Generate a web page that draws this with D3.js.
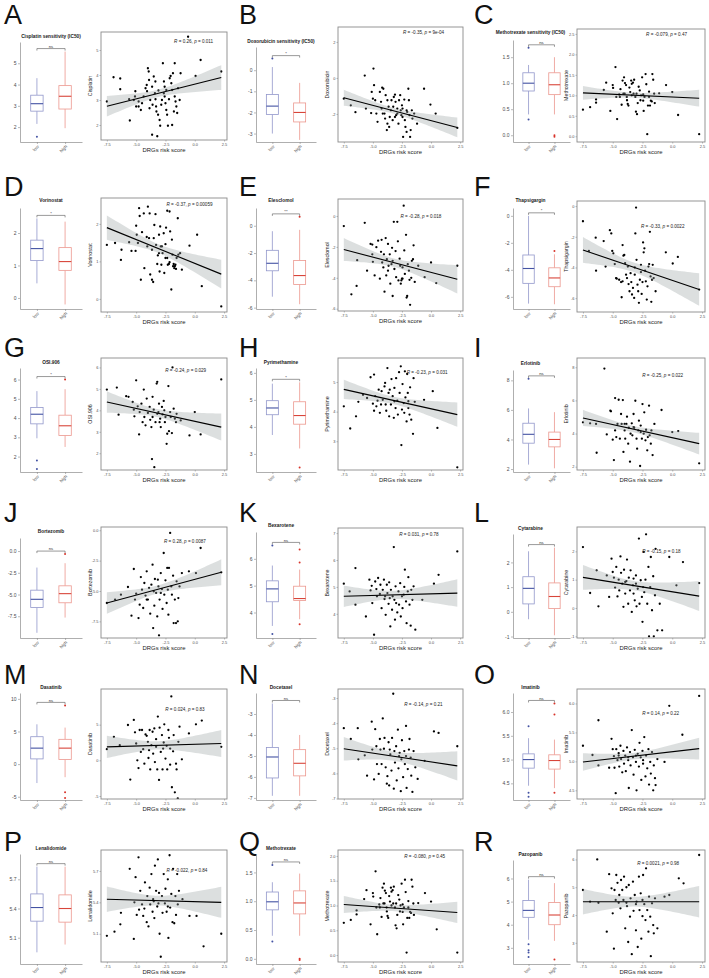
<!DOCTYPE html>
<html>
<head>
<meta charset="utf-8">
<script src="https://cdn.jsdelivr.net/npm/d3@7"></script>
<style>
  body { margin: 0; background: #fff; }
  svg text { font-family: "Liberation Sans", Arial, Helvetica, sans-serif; }
</style>
</head>
<body>
<svg id="fig" width="709" height="978"></svg>
<script>
// ---- data ----
const panelLetters = ["A","B","C","D","E","F","G","H","I","J","K","L","M","N","O","P","Q","R"];
const drugNames = ["Cisplatin","Doxorubicin","Methotrexate","Vorinostat","Elesclomol","Thapsigargin","OSI.906","Pyrimethamine","Erlotinib",
  "Bortezomib","Bexarotene","Cytarabine","Dasatinib","Docetaxel","Imatinib","Lenalidomide","Methotrexate","Pazopanib"];
const boxTitles = ["Cisplatin sensitivity (IC50)","Doxorubicin sensitivity (IC50)","Methotrexate sensitivity (IC50)","Vorinostat","Elesclomol","Thapsigargin",
  "OSI.906","Pyrimethamine","Erlotinib","Bortezomib","Bexarotene","Cytarabine","Dasatinib","Docetaxel","Imatinib","Lenalidomide","Methotrexate","Pazopanib"];
const groups = ["low", "high"];
const sigLabels = ["ns","*","ns","*","**","*","*","*","ns","ns","ns","ns","ns","ns","ns","ns","ns","ns"];

// [lower whisker, q1, median, q3, upper whisker]
const lowStats = [
  [2.15,2.75,3.1,3.5,4.3],[-3.0,-2.1,-1.7,-1.15,0.15],[0.4,0.85,1.0,1.2,1.35],
  [0.45,1.15,1.52,1.78,2.45],[-5.2,-3.3,-2.75,-1.8,-0.4],[-6.5,-5.0,-3.9,-2.9,0.0],
  [2.95,3.7,4.2,4.55,5.4],[3.7,4.45,4.7,4.97,5.6],[2.3,3.75,4.35,5.1,6.1],
  [-9.4,-6.5,-5.55,-4.5,-1.9],[3.5,4.4,4.88,5.18,5.75],[-0.3,0.32,0.95,1.42,2.45],
  [-2.9,0.8,2.45,4.2,6.1],[-6.9,-6.05,-5.05,-4.6,-2.5],[4.45,4.82,5.0,5.12,5.45],
  [4.95,5.27,5.41,5.55,5.83],[0.4,0.85,0.99,1.16,1.33],[3.35,4.32,4.62,5.05,5.95]];
const highStats = [
  [1.95,2.85,3.45,3.95,5.55],[-3.3,-2.45,-2.0,-1.55,-0.6],[0.4,0.78,0.97,1.2,1.5],
  [-0.2,0.85,1.12,1.55,2.35],[-5.75,-4.3,-3.65,-2.55,-0.3],[-6.55,-5.25,-4.6,-3.85,-2.85],
  [2.5,3.1,3.6,4.15,5.5],[3.2,4.1,4.42,4.93,5.65],[2.05,3.5,4.0,4.5,5.85],
  [-7.65,-5.95,-4.9,-4.0,-1.4],[3.75,4.45,4.52,4.98,5.6],[-0.95,0.13,0.62,1.17,2.6],
  [-2.0,0.7,2.45,3.8,5.6],[-6.9,-5.95,-5.35,-4.7,-4.0],[4.4,4.8,4.98,5.1,5.42],
  [5.03,5.26,5.4,5.54,5.83],[0.4,0.78,0.97,1.18,1.48],[3.3,4.0,4.42,4.96,5.8]];
const lowOutliers = [[1.55],[0.55],[1.68,0.3],[],[],[],[1.8,1.35],[],[8.1],[],[6.5,3.2],[],[],[],[5.7,4.3,4.22],[],[1.63,0.3],[3.15,2.9,2.8,2.6]];
const highOutliers = [[],[],[0.0,-0.03],[],[0.65],[-2.6],[6.0],[2.5],[],[-0.35],[6.35,5.86,3.56],[],[9.0,-4.3,-5.2],[],[6.18,5.95,4.3],[],[0.0,-0.02],[2.5]];
const boxDomains = [[1.3,6.0],[-3.4,1.1],[-0.13,1.83],[-0.34,2.77],[-6.1,1.3],[-6.9,0.58],[1.2,6.6],[2.33,6.18],[1.8,8.7],
  [-10,1.5],[3.05,7.0],[-1.06,3.15],[-5.5,10.9],[-7.1,-2.0],[4.15,6.4],[4.83,5.96],[-0.09,1.82],[2.3,6.8]];
const boxTicks = [[2,3,4,5],[-3,-2,-1,0],[0,0.5,1,1.5],[0,1,2],[-6,-4,-2,0],[-6,-4,-2,0],[2,3,4,5,6],[3,4,5,6],[2,4,6,8],
  [-7.5,-5,-2.5,0],[4,5,6],[-1,0,1,2],[-5,0,5,10],[-7,-6,-5,-4,-3],[4.5,5,5.5,6],[5.1,5.4,5.7],[0,0.5,1,1.5],[3,4,5,6]];
const boxTickDecimals = [0,0,1,0,0,0,0,0,0,1,0,0,0,0,1,1,1,0];

const riskDomain = [-8.0, 2.75];
const riskTicks = [-7.5, -5.0, -2.5, 0.0, 2.5];
const scatterDomains = [[1.4,5.72],[-3.56,2.83],[-0.14,2.62],[-0.35,2.69],[-6.15,1.1],[-6.9,0.33],[1.22,6.44],[2.03,5.81],[1.8,8.56],
  [-8.87,0.27],[3.1,7.19],[-1.06,2.86],[-5.42,10.0],[-7.02,-2.64],[4.35,6.25],[4.83,5.9],[-0.14,2.12],[2.31,6.34]];
const scatterTicks = [[2,3,4,5],[-2,0,2],[0,0.5,1,1.5,2,2.5],[0,1,2],[-6,-4,-2,0],[-6,-4,-2,0],[2,3,4,5,6],[3,4,5],[2,4,6,8],
  [-7.5,-5,-2.5,0],[4,5,6,7],[-1,0,1,2],[-5,0,5],[-7,-6,-5,-4,-3],[4.5,5,5.5,6],[5.1,5.4,5.7],[0,0.5,1,1.5,2],[3,4,5,6]];
const scatterTickDecimals = [0,0,1,0,0,0,0,0,0,1,0,0,0,0,1,1,1,0];
const rValues = ["0.26","-0.35","-0.079","-0.37","-0.28","-0.33","-0.24","-0.23","-0.25","0.28","0.031","-0.15","0.024","-0.14","0.14","-0.022","-0.080","0.0021"];
const pValues = ["0.011","9e-04","0.47","0.00059","0.018","0.0022","0.029","0.031","0.022","0.0087","0.78","0.18","0.83","0.21","0.22","0.84","0.45","0.98"];
// fitted line value at the leftmost and rightmost risk score
const fitEnds = [[2.75,3.9],[-1.1,-2.75],[1.06,0.93],[1.9,0.66],[-2.17,-4.1],[-2.86,-5.44],[4.39,3.22],[4.75,3.9],[4.94,3.39],
  [-5.99,-3.46],[4.65,4.77],[1.08,0.42],[1.89,2.36],[-5.02,-5.7],[4.99,5.22],[5.43,5.4],[1.02,0.86],[4.48,4.48]];
// half width of the confidence band at the leftmost and rightmost risk score
const bandHalf = [[0.43,0.47],[0.48,0.5],[0.17,0.2],[0.32,0.39],[0.75,0.9],[0.83,1.07],[0.52,0.6],[0.36,0.37],[0.38,0.8],
  [0.92,1.03],[0.38,0.53],[0.44,0.52],[1.58,1.87],[0.46,0.59],[0.15,0.19],[0.12,0.15],[0.16,0.23],[0.48,0.54]];

// [DRGs risk score, drug value]
const scatterA = [[-7.5,2.94],[-6.93,3.91],[-6.36,3.86],[-6.36,3.43],[-5.54,2.18],[-5.07,3.35],[-5.1,3.14],[-5.2,3.0],[-5.6,3.03],[-4.79,2.74],[-4.6,2.6],[-4.2,3.47],[-4.1,3.6],[-4.0,4.27],[-3.93,4.14],[-3.8,3.0],[-3.64,3.53],[-3.5,3.94],[-3.36,3.74],[-3.4,3.27],[-3.35,3.03],[-3.3,2.74],[-3.27,2.54],[-3.13,2.41],[-3.0,2.2],[-2.95,1.97],[-3.64,1.61],[-3.2,1.55],[-2.72,4.47],[-2.63,3.74],[-2.57,3.53],[-2.57,3.14],[-2.5,2.87],[-2.43,2.6],[-2.36,2.41],[-2.29,1.97],[-2.14,3.87],[-2.06,3.96],[-2.0,3.67],[-1.93,3.4],[-1.93,2.0],[-1.86,4.07],[-1.71,4.47],[-1.71,3.14],[-1.64,2.94],[-1.57,2.74],[-1.5,2.48],[-1.29,3.0],[-1.21,4.07],[-0.57,5.53],[0.07,3.96],[0.5,4.6],[2.26,4.14],[-4.79,2.94],[-4.5,2.87],[-4.36,3.14],[-3.86,2.67],[-3.6,2.81],[-2.86,2.81],[-2.8,3.0],[-2.64,3.27],[-2.2,3.03],[-1.43,3.47],[-3.1,3.38],[-4.07,3.35],[-5.0,2.74],[-3.9,3.8],[-2.43,3.4],[-1.78,2.54]];
const scatterB = [[-7.5,-1.15],[-6.9,-1.52],[-6.5,-1.9],[-5.7,0.13],[-5.6,-1.7],[-5.15,-1.95],[-5.1,-0.78],[-5.0,-1.15],[-4.95,0.52],[-4.9,-0.4],[-4.8,-1.24],[-4.7,-1.98],[-4.6,-2.44],[-4.4,-0.78],[-4.3,-1.33],[-4.25,-1.7],[-4.2,-0.54],[-4.1,-0.6],[-4.0,-1.98],[-3.95,-2.26],[-3.9,-0.96],[-3.8,-2.9],[-3.75,-2.54],[-3.6,-2.72],[-3.55,-2.17],[-3.45,-1.8],[-3.4,-1.24],[-3.3,-2.35],[-3.2,-1.06],[-3.1,-0.93],[-3.05,-1.33],[-3.0,-2.07],[-2.9,-1.7],[-2.8,-2.54],[-2.75,-1.24],[-2.65,-0.96],[-2.6,-1.8],[-2.55,-2.07],[-2.45,-1.7],[-2.4,-3.28],[-2.3,-1.2],[-2.25,-2.35],[-2.2,-2.72],[-2.1,-3.0],[-2.05,-1.89],[-1.95,-0.6],[-1.9,-1.24],[-1.85,-2.07],[-1.8,-3.28],[-1.75,-2.9],[-1.65,-1.8],[-1.6,-2.26],[-1.45,-1.98],[-1.2,-2.54],[-0.6,-0.6],[-0.05,-1.48],[0.4,-1.98],[2.26,-2.78],[-4.15,-1.98],[-3.65,-1.6],[-3.25,-1.6],[-2.9,-1.98],[-2.45,-2.17],[-2.1,-1.8],[-2.5,-1.52],[-3.1,-2.17],[-3.75,-1.24]];
const scatterC = [[-7.5,0.65],[-6.9,0.71],[-6.4,0.82],[-6.4,0.9],[-5.75,1.13],[-5.55,1.31],[-5.2,0.62],[-5.0,1.25],[-4.97,1.18],[-4.77,1.69],[-4.7,0.96],[-4.63,0.42],[-4.45,1.02],[-4.35,1.15],[-4.25,0.77],[-4.17,1.36],[-4.1,1.04],[-4.05,1.44],[-3.97,1.3],[-3.88,1.25],[-3.82,0.96],[-3.74,0.79],[-3.68,0.75],[-3.6,1.19],[-3.53,1.08],[-3.45,1.36],[-3.4,1.28],[-3.3,1.31],[-3.25,1.04],[-3.2,1.38],[-3.1,0.96],[-3.05,0.6],[-2.96,0.54],[-2.9,0.81],[-2.82,1.21],[-2.73,1.12],[-2.67,0.88],[-2.62,1.0],[-2.53,1.44],[-2.44,0.87],[-2.4,0.62],[-2.33,0.96],[-2.24,1.52],[-2.18,1.27],[-2.1,0.05],[-2.04,0.75],[-1.95,1.09],[-1.87,0.75],[-1.8,0.87],[-1.72,0.85],[-1.67,1.52],[-1.6,1.38],[-1.52,1.04],[-1.47,0.81],[-1.1,1.05],[-0.52,1.25],[0.0,1.08],[0.49,0.52],[2.26,0.05],[-4.4,0.96],[-4.0,1.04],[-3.4,1.0],[-3.0,1.04],[-2.44,1.02],[-1.95,0.96],[-3.8,0.88]];
const scatterD = [[-7.5,1.44],[-6.8,1.49],[-6.3,1.04],[-6.25,1.31],[-5.6,1.51],[-5.4,1.28],[-5.05,1.28],[-5.0,1.95],[-4.95,1.71],[-4.85,1.49],[-4.75,2.42],[-4.7,2.21],[-4.6,0.51],[-4.5,1.78],[-4.35,2.28],[-4.3,0.82],[-4.1,1.65],[-4.05,1.4],[-4.0,2.46],[-3.9,1.62],[-3.85,2.28],[-3.8,0.65],[-3.65,0.51],[-3.55,0.45],[-3.5,1.62],[-3.45,1.97],[-3.35,2.26],[-3.3,1.44],[-3.2,0.93],[-3.15,1.16],[-3.05,1.71],[-3.0,0.73],[-2.95,1.93],[-2.85,0.91],[-2.8,1.4],[-2.75,1.22],[-2.65,1.75],[-2.6,0.69],[-2.5,1.46],[-2.45,1.9],[-2.35,2.35],[-2.3,0.91],[-2.2,0.93],[-2.15,2.33],[-2.1,1.8],[-2.0,0.25],[-1.95,1.58],[-1.9,1.18],[-1.85,0.87],[-1.8,0.93],[-1.75,0.82],[-1.7,0.87],[-1.65,0.91],[-1.6,0.8],[-1.55,1.09],[-1.45,2.15],[-1.4,1.18],[-1.25,1.22],[-1.1,0.78],[-0.45,1.42],[0.2,1.71],[0.6,0.34],[2.26,-0.2],[-2.35,1.09],[-3.05,1.22],[-3.65,1.31],[-2.9,1.4],[-2.15,0.98],[-2.5,1.09]];
const scatterE = [[-7.5,-0.65],[-6.85,-5.07],[-6.4,-4.53],[-5.7,-0.44],[-6.35,-2.86],[-5.5,-3.54],[-5.2,-1.81],[-5.05,-1.85],[-5.05,-2.48],[-5.0,-2.97],[-4.85,-3.85],[-4.7,-2.02],[-4.55,-1.6],[-4.4,-4.06],[-4.3,-2.32],[-4.25,-1.54],[-4.2,-3.01],[-4.1,-3.33],[-4.05,-2.48],[-4.0,-4.9],[-3.9,-1.43],[-3.85,-3.85],[-3.8,-2.8],[-3.7,-1.81],[-3.65,-3.22],[-3.55,-2.48],[-3.5,-4.38],[-3.4,-3.12],[-3.35,-2.06],[-3.3,-5.18],[-3.2,-0.38],[-3.15,-3.43],[-3.05,-2.27],[-3.0,-3.96],[-2.9,-0.38],[-2.85,-1.64],[-2.8,-4.17],[-2.7,-2.76],[-2.65,-3.22],[-2.6,-4.38],[-2.55,-4.17],[-2.5,-4.06],[-2.45,-4.06],[-2.35,0.67],[-2.3,-2.23],[-2.25,-3.75],[-2.15,-1.22],[-2.1,-5.28],[-2.05,-5.18],[-2.0,-3.12],[-1.9,-3.54],[-1.85,-4.13],[-1.8,-5.75],[-1.7,-4.0],[-1.65,-2.9],[-1.55,-2.8],[-1.5,-1.9],[-1.4,-4.27],[-1.1,-3.22],[-0.55,-3.96],[0.0,-3.01],[0.45,-4.34],[2.26,-3.22],[-3.3,-2.9],[-2.45,-3.33],[-3.7,-3.54]];
const scatterF = [[-7.5,-0.99],[-6.43,-2.06],[-6.4,-4.21],[-7.0,-2.92],[-5.76,-2.28],[-5.6,-3.94],[-5.24,-1.57],[-5.12,-1.78],[-5.04,-2.92],[-4.95,-3.08],[-4.83,-3.78],[-4.72,-4.69],[-4.66,-4.73],[-4.46,-4.8],[-4.3,-4.95],[-4.25,-5.94],[-4.17,-2.54],[-4.1,-3.23],[-4.03,-3.18],[-3.96,-3.72],[-3.88,-4.47],[-3.8,-4.69],[-3.73,-3.94],[-3.67,-5.08],[-3.59,-5.55],[-3.5,-4.37],[-3.44,-4.95],[-3.38,-5.76],[-3.3,-5.33],[-3.2,-5.98],[-3.15,-4.0],[-3.1,-1.78],[-3.04,-0.1],[-3.0,-3.5],[-2.92,-5.12],[-2.86,-5.55],[-2.8,-6.3],[-2.72,-4.8],[-2.63,-4.3],[-2.57,-5.72],[-2.5,-4.95],[-2.45,-2.37],[-2.4,-3.01],[-2.34,-2.75],[-2.28,-4.21],[-2.22,-4.9],[-2.14,-6.09],[-2.08,-5.23],[-2.0,-3.94],[-1.94,-3.78],[-1.88,-1.68],[-1.82,-4.58],[-1.76,-6.24],[-1.7,-4.8],[-1.64,-3.83],[-1.56,-4.69],[-1.4,-5.55],[-0.54,-3.01],[0.04,-3.74],[0.47,-3.31],[2.26,-5.44],[-4.17,-4.9],[-3.15,-4.47],[-2.63,-3.83]];
const scatterG = [[-7.5,4.97],[-6.65,5.06],[-6.5,3.8],[-5.85,4.66],[-5.65,4.63],[-5.3,4.39],[-5.2,4.03],[-5.15,3.72],[-5.0,5.4],[-4.87,4.19],[-4.75,2.88],[-4.7,3.92],[-4.55,4.31],[-4.45,3.45],[-4.35,4.97],[-4.3,3.69],[-4.2,3.3],[-4.1,4.55],[-4.0,3.88],[-3.85,4.16],[-3.8,3.56],[-3.7,3.22],[-3.65,1.73],[-3.6,4.63],[-3.5,4.03],[-3.45,1.35],[-3.35,3.45],[-3.25,5.25],[-3.2,5.33],[-3.1,3.92],[-3.05,4.31],[-2.95,3.61],[-2.9,3.22],[-2.8,4.16],[-2.75,3.81],[-2.65,4.44],[-2.55,3.45],[-2.5,3.69],[-2.4,2.44],[-2.35,2.91],[-2.25,5.13],[-2.2,3.03],[-2.1,3.92],[-2.05,3.69],[-1.95,2.94],[-1.9,6.0],[-1.8,4.08],[-1.7,3.61],[-1.6,3.45],[-1.55,3.84],[-1.2,3.53],[-0.45,2.83],[0.0,3.92],[0.5,2.88],[2.26,5.44],[-3.2,3.84],[-3.6,3.69],[-2.6,4.0],[-3.0,3.45]];
const scatterH = [[-7.5,4.18],[-6.95,3.43],[-6.45,3.84],[-6.25,4.33],[-5.85,4.57],[-5.5,4.46],[-5.2,5.16],[-5.0,4.27],[-4.9,5.25],[-4.9,4.03],[-4.8,4.52],[-4.7,4.18],[-4.6,4.37],[-4.5,4.74],[-4.4,3.96],[-4.3,4.24],[-4.25,4.69],[-4.15,4.4],[-4.0,4.85],[-3.95,4.97],[-3.85,4.03],[-3.75,5.47],[-3.65,4.63],[-3.6,3.84],[-3.55,4.74],[-3.45,4.24],[-3.4,5.1],[-3.3,4.52],[-3.2,3.79],[-3.15,4.8],[-3.05,4.12],[-3.0,5.13],[-2.9,4.37],[-2.85,3.9],[-2.75,5.33],[-2.7,4.63],[-2.6,5.53],[-2.55,2.87],[-2.5,4.07],[-2.45,4.93],[-2.3,3.96],[-2.25,5.36],[-2.2,4.48],[-2.1,3.67],[-2.05,5.27],[-2.0,4.63],[-1.95,4.12],[-1.85,3.9],[-1.8,4.82],[-1.7,3.73],[-1.55,3.25],[-1.5,5.13],[-1.4,4.33],[-0.6,4.4],[0.15,4.69],[0.55,3.45],[2.26,2.12],[-3.9,4.24],[-3.15,4.35],[-2.35,4.29],[-1.95,4.35]];
const scatterI = [[-7.5,4.68],[-6.9,4.62],[-6.4,4.58],[-6.35,2.84],[-5.7,7.92],[-5.5,3.95],[-5.2,5.38],[-5.15,5.34],[-5.0,3.63],[-4.9,2.4],[-4.8,6.14],[-4.7,3.79],[-4.6,4.58],[-4.5,6.04],[-4.4,3.69],[-4.3,5.18],[-4.25,4.58],[-4.15,6.02],[-4.1,2.89],[-4.0,4.19],[-3.95,3.69],[-3.85,4.58],[-3.8,5.02],[-3.7,3.39],[-3.65,4.35],[-3.55,2.3],[-3.5,3.99],[-3.4,4.62],[-3.35,3.89],[-3.25,5.18],[-3.2,4.35],[-3.1,5.98],[-3.0,3.69],[-2.95,3.09],[-2.85,4.19],[-2.8,4.78],[-2.7,2.04],[-2.65,4.48],[-2.55,3.69],[-2.5,5.78],[-2.4,3.99],[-2.35,5.28],[-2.25,3.59],[-2.2,4.23],[-2.1,2.99],[-2.05,3.79],[-1.95,5.68],[-1.9,3.89],[-1.8,3.39],[-1.75,4.19],[-1.65,2.7],[-1.5,4.58],[-0.9,5.42],[0.0,4.09],[0.5,4.15],[2.26,2.2],[-3.25,4.39],[-4.0,4.58],[-2.65,4.09],[-4.8,4.19]];
const scatterJ = [[-7.5,-5.99],[-6.8,-5.71],[-6.3,-5.3],[-5.7,-4.67],[-5.4,-7.03],[-5.2,-3.19],[-5.1,-5.71],[-5.0,-5.22],[-4.8,-7.23],[-4.7,-6.13],[-4.6,-3.85],[-4.5,-4.89],[-4.4,-6.4],[-4.3,-4.34],[-4.2,-5.38],[-4.1,-3.38],[-4.0,-5.71],[-3.9,-4.75],[-3.8,-6.87],[-3.7,-4.48],[-3.6,-2.83],[-3.55,-8.05],[-3.45,-6.21],[-3.4,-4.01],[-3.3,-5.16],[-3.2,-7.09],[-3.15,-4.07],[-3.05,-8.65],[-3.0,-5.71],[-2.9,-3.52],[-2.8,-4.84],[-2.75,-6.48],[-2.65,-1.87],[-2.6,-5.3],[-2.5,-4.12],[-2.4,-5.99],[-2.35,-3.1],[-2.25,-6.95],[-2.2,-3.1],[-2.1,-0.22],[-2.0,-4.62],[-1.95,-5.3],[-1.85,-3.74],[-1.8,-7.64],[-1.7,-5.71],[-1.6,-7.64],[-1.55,-4.2],[-1.45,-7.5],[-1.4,-5.58],[-1.3,-4.62],[-1.1,-3.52],[-0.5,-3.38],[0.1,-3.52],[0.5,-1.46],[2.26,-3.46],[-3.5,-5.03],[-2.9,-5.16],[-2.3,-4.89],[-4.1,-5.71],[-3.1,-4.62]];
const scatterK = [[-7.5,5.12],[-7.0,4.83],[-6.5,5.7],[-6.5,4.34],[-5.6,3.9],[-5.3,5.27],[-5.2,4.87],[-5.1,5.04],[-5.05,4.4],[-4.9,3.22],[-4.8,5.2],[-4.7,4.92],[-4.65,4.65],[-4.55,5.33],[-4.4,4.74],[-4.35,5.08],[-4.25,4.21],[-4.15,4.89],[-4.05,5.27],[-4.0,4.55],[-3.9,3.96],[-3.8,5.08],[-3.75,4.77],[-3.65,4.37],[-3.6,5.17],[-3.5,3.53],[-3.45,4.89],[-3.35,4.15],[-3.3,4.65],[-3.2,6.48],[-3.1,3.78],[-3.05,5.02],[-3.0,4.4],[-2.9,4.05],[-2.8,4.83],[-2.75,4.34],[-2.65,5.14],[-2.6,3.9],[-2.5,4.65],[-2.45,4.21],[-2.3,5.0],[-2.25,5.64],[-2.15,4.46],[-2.1,3.65],[-2.0,4.83],[-1.95,5.36],[-1.85,4.34],[-1.75,3.56],[-1.7,4.89],[-1.6,4.52],[-1.5,5.02],[-1.35,3.41],[-0.75,4.52],[0.25,5.12],[0.65,5.45],[2.26,6.32],[-3.95,4.65],[-3.15,4.52],[-2.35,4.71],[-3.55,4.58]];
const scatterL = [[-7.5,2.15],[-6.9,0.53],[-6.35,1.33],[-6.2,0.06],[-5.5,1.15],[-5.3,0.39],[-5.1,1.74],[-5.0,1.27],[-4.9,1.07],[-4.8,0.72],[-4.7,1.45],[-4.6,0.41],[-4.5,1.0],[-4.45,0.62],[-4.35,1.82],[-4.3,1.24],[-4.2,0.86],[-4.1,0.04],[-4.05,1.35],[-3.95,0.51],[-3.85,0.95],[-3.8,1.71],[-3.7,0.15],[-3.65,1.07],[-3.55,0.62],[-3.5,1.33],[-3.4,-0.14],[-3.3,0.8],[-3.25,0.51],[-3.15,0.27],[-3.05,1.15],[-3.0,0.06],[-2.9,0.68],[-2.8,2.45],[-2.75,0.15],[-2.65,0.98],[-2.55,0.39],[-2.5,-0.49],[-2.4,1.98],[-2.35,0.56],[-2.25,1.0],[-2.2,2.6],[-2.1,0.15],[-2.0,1.45],[-1.95,-1.0],[-1.85,0.74],[-1.8,1.8],[-1.7,-0.08],[-1.6,1.12],[-1.55,-1.0],[-1.45,0.45],[-1.4,2.09],[-1.25,-0.79],[-1.05,0.15],[-0.85,-0.79],[-0.25,1.8],[0.35,0.8],[0.9,1.62],[2.26,0.88],[-3.05,0.86],[-3.95,0.92],[-2.45,0.74],[-3.25,1.04]];
const scatterM = [[-7.5,1.56],[-6.9,3.3],[-6.4,2.12],[-5.7,4.95],[-5.5,-2.69],[-5.2,5.66],[-5.1,3.92],[-5.0,2.36],[-4.9,0.0],[-4.8,-1.08],[-4.7,4.25],[-4.6,1.18],[-4.5,4.25],[-4.4,1.56],[-4.3,-0.47],[-4.2,3.63],[-4.1,3.44],[-4.0,2.59],[-3.95,0.33],[-3.85,4.25],[-3.8,-1.27],[-3.7,2.12],[-3.6,4.01],[-3.55,0.94],[-3.45,4.48],[-3.4,-0.24],[-3.3,2.97],[-3.2,-1.27],[-3.15,6.13],[-3.05,-2.74],[-3.0,4.58],[-2.9,1.18],[-2.8,3.54],[-2.75,-1.27],[-2.65,2.5],[-2.6,5.05],[-2.5,0.24],[-2.4,2.03],[-2.35,-1.27],[-2.25,4.25],[-2.2,3.16],[-2.1,-0.61],[-2.0,8.96],[-1.95,-3.77],[-1.85,1.27],[-1.8,3.54],[-1.7,-4.48],[-1.6,-0.47],[-1.55,-1.27],[-1.45,-5.33],[-1.4,2.59],[-1.3,4.72],[-1.1,0.14],[-0.5,3.77],[0.1,5.05],[0.6,5.57],[2.26,1.89],[-3.3,1.89],[-2.7,1.65],[-3.9,1.42],[-2.1,1.65]];
const scatterN = [[-7.5,-4.2],[-6.9,-4.63],[-6.3,-4.2],[-6.25,-5.44],[-5.7,-5.28],[-5.5,-6.09],[-5.1,-3.94],[-5.05,-5.05],[-4.9,-6.24],[-4.8,-4.24],[-4.7,-4.92],[-4.65,-5.63],[-4.5,-6.02],[-4.4,-4.63],[-4.35,-5.05],[-4.25,-5.63],[-4.15,-3.81],[-4.05,-5.02],[-4.0,-4.59],[-3.9,-5.76],[-3.8,-6.41],[-3.75,-6.11],[-3.65,-4.76],[-3.6,-6.48],[-3.5,-5.24],[-3.4,-5.89],[-3.35,-4.59],[-3.25,-2.83],[-3.2,-6.61],[-3.1,-5.57],[-3.0,-4.92],[-2.95,-6.28],[-2.85,-4.26],[-2.8,-5.8],[-2.7,-5.18],[-2.6,-6.71],[-2.55,-5.44],[-2.5,-4.68],[-2.4,-6.15],[-2.3,-5.11],[-2.25,-5.63],[-2.15,-4.11],[-2.1,-6.58],[-2.0,-5.83],[-1.9,-5.05],[-1.85,-4.63],[-1.75,-5.37],[-1.7,-6.09],[-1.6,-6.74],[-1.5,-5.11],[-1.35,-5.76],[-1.15,-6.22],[-0.55,-5.5],[0.25,-4.33],[0.65,-4.39],[2.26,-4.92],[-3.55,-5.05],[-2.75,-5.31],[-3.15,-5.11],[-2.15,-5.31]];
const scatterO = [[-7.5,5.27],[-6.7,5.11],[-6.2,5.71],[-6.2,4.93],[-5.3,4.89],[-5.1,5.39],[-5.0,5.21],[-4.9,5.09],[-4.85,4.89],[-4.75,4.45],[-4.7,5.21],[-4.6,5.02],[-4.5,5.14],[-4.45,4.91],[-4.35,5.27],[-4.3,5.04],[-4.2,4.81],[-4.1,5.18],[-4.05,4.96],[-3.95,5.1],[-3.9,4.83],[-3.8,5.24],[-3.7,5.02],[-3.65,4.54],[-3.55,5.16],[-3.5,4.93],[-3.4,5.54],[-3.3,5.07],[-3.25,4.77],[-3.15,5.2],[-3.05,4.99],[-3.0,4.5],[-2.9,5.13],[-2.8,4.91],[-2.75,5.32],[-2.65,5.07],[-2.6,4.68],[-2.5,5.18],[-2.45,4.96],[-2.35,5.42],[-2.25,4.74],[-2.2,5.1],[-2.1,4.88],[-2.0,5.21],[-1.95,4.6],[-1.85,4.99],[-1.8,4.79],[-1.7,5.16],[-1.6,4.5],[-1.55,4.93],[-1.45,4.71],[-1.4,4.59],[-1.25,5.04],[-0.65,4.99],[-0.25,5.96],[0.85,5.46],[2.26,6.13],[-3.05,5.1],[-3.7,5.07],[-2.45,5.02],[-4.5,5.1]];
const scatterP = [[-7.5,5.08],[-6.85,5.12],[-6.35,5.19],[-6.3,5.3],[-5.55,5.72],[-5.2,5.05],[-5.15,5.4],[-5.05,5.64],[-4.95,5.28],[-4.8,5.83],[-4.75,5.33],[-4.65,5.51],[-4.5,5.38],[-4.4,5.27],[-4.3,5.34],[-4.25,5.59],[-4.1,5.21],[-4.05,5.46],[-3.95,5.17],[-3.85,5.54],[-3.8,5.38],[-3.7,5.67],[-3.6,5.31],[-3.55,5.43],[-3.45,5.25],[-3.4,5.75],[-3.3,5.51],[-3.2,5.36],[-3.15,5.81],[-3.05,5.49],[-3.0,5.1],[-2.9,4.88],[-2.8,5.46],[-2.75,5.3],[-2.65,5.67],[-2.55,5.39],[-2.5,5.53],[-2.4,5.31],[-2.3,5.62],[-2.25,5.06],[-2.15,5.85],[-2.1,5.35],[-2.0,5.48],[-1.9,5.21],[-1.85,5.72],[-1.75,5.2],[-1.65,5.46],[-1.6,5.28],[-1.5,5.67],[-1.45,5.38],[-1.35,5.51],[-1.05,5.43],[-0.45,5.27],[0.15,5.27],[0.75,4.98],[2.26,5.1],[-3.1,5.39],[-2.3,5.36],[-3.5,5.41]];
const scatterQ = scatterC; // the same methotrexate values appear in panels C and Q
const scatterR = [[-7.5,4.9],[-6.9,4.48],[-6.3,6.0],[-6.2,4.44],[-5.5,3.4],[-5.3,5.47],[-5.1,4.96],[-5.0,4.06],[-4.9,2.79],[-4.85,4.9],[-4.75,4.54],[-4.7,5.44],[-4.6,5.16],[-4.5,4.44],[-4.45,4.72],[-4.35,4.24],[-4.3,5.26],[-4.2,4.9],[-4.1,4.54],[-4.05,5.38],[-3.95,3.52],[-3.85,5.0],[-3.8,4.32],[-3.7,3.03],[-3.65,5.08],[-3.55,3.94],[-3.5,4.6],[-3.4,2.59],[-3.3,5.2],[-3.25,4.15],[-3.15,4.72],[-3.05,3.45],[-3.0,4.48],[-2.9,2.85],[-2.8,5.38],[-2.75,4.18],[-2.65,4.78],[-2.6,3.15],[-2.5,3.96],[-2.45,5.44],[-2.35,4.39],[-2.25,3.82],[-2.2,5.68],[-2.1,4.18],[-2.0,3.4],[-1.95,4.66],[-1.85,3.94],[-1.8,2.52],[-1.7,4.42],[-1.6,3.64],[-1.55,3.34],[-1.45,4.6],[-1.25,3.52],[-0.65,4.66],[-0.25,4.72],[0.55,5.32],[0.95,5.14],[2.26,6.16],[-3.85,4.44],[-3.05,4.39],[-2.5,4.54]];
const scatterSets = [scatterA,scatterB,scatterC,scatterD,scatterE,scatterF,scatterG,scatterH,scatterI,
  scatterJ,scatterK,scatterL,scatterM,scatterN,scatterO,scatterP,scatterQ,scatterR];

// ---- layout ----
const colLetterX = [4, 239, 474];
const rowLetterY = [24, 196, 357, 522, 684, 851];
const colBoxX = [[20, 82], [256, 316], [513, 570]];
const colTitleShift = [0, -5, -11];
const colFrameX = [[101, 227], [338, 463], [577, 705]];
// [box title y, box axis top, box axis bottom, frame top, frame bottom]
const panelV = [
  [38,42,142,32,140],[43,47,142,27,142],[34,40,142,29,142],
  [202,208,309,198,312],[202,208,309,199,311],[202,208,309,201,312],
  [364,368,472,358,470],[364,368,472,358,470],[365,370,472,358,470],
  [533,538,638,527,638],[527,532,638,528,638],[530,534,638,527,638],
  [689,693,800,689,799],[689,693,800,689,799],[689,693,800,689,799],
  [850,854,964,850,962],[850,854,964,850,962],[856,860,964,850,962]];
// correlation label: fraction across the frame, offset below frame top
const rLabelPos = [[0.58,11],[0.52,7],[0.54,7],[0.52,8],[0.5,19],[0.5,27],[0.51,14],[0.55,16],[0.51,19],
  [0.5,16],[0.49,8],[0.51,26],[0.51,22],[0.53,17],[0.51,26],[0.52,22],[0.53,8],[0.47,15]];

const boxColors = {
  low:  { line: "#9297cb", mid: "#4352a3", dot: "#4352a3" },
  high: { line: "#ec978e", mid: "#d8453a", dot: "#d8332a" }
};
const axisGrey = "#8c8c8c";
const labelGrey = "#4d4d4d";

const svg = d3.select("#fig");

const fmtDec = d => v => d === 0 ? String(v) : v.toFixed(d);

function styleAxis(sel, size) {
  sel.attr("font-size", null).attr("font-family", null);
  sel.select(".domain").attr("stroke", axisGrey).attr("stroke-width", 0.7);
  sel.selectAll(".tick line").attr("stroke", axisGrey).attr("stroke-width", 0.6);
  sel.selectAll(".tick text").attr("fill", labelGrey).attr("font-size", size);
}

function drawBox(i, col) {
  const [x0, x1] = colBoxX[col];
  const [titleY, top, bottom] = panelV[i];
  const g = svg.append("g");
  const y = d3.scaleLinear().domain(boxDomains[i]).range([bottom, top]);
  const x = d3.scalePoint().domain(groups).range([x0, x1]).padding(0.6);
  const bw = x.step() * 0.44;

  g.append("text")
    .attr("x", (x0 + x1) / 2 + colTitleShift[col]).attr("y", titleY)
    .attr("text-anchor", "middle").attr("font-size", 4.8).attr("font-weight", "bold")
    .attr("fill", "#1a1a1a")
    .text(boxTitles[i]);

  const ya = g.append("g").attr("transform", `translate(${x0},0)`)
    .call(d3.axisLeft(y).tickValues(boxTicks[i]).tickFormat(fmtDec(boxTickDecimals[i]))
      .tickSize(2).tickSizeOuter(0).tickPadding(1.5));
  styleAxis(ya, 5);
  const xa = g.append("g").attr("transform", `translate(0,${bottom})`)
    .call(d3.axisBottom(x).tickSize(2).tickSizeOuter(0).tickFormat(""));
  styleAxis(xa, 5);

  let topVal = -Infinity;
  groups.forEach(grp => {
    const s = grp === "low" ? lowStats[i] : highStats[i];
    const outs = grp === "low" ? lowOutliers[i] : highOutliers[i];
    const c = boxColors[grp];
    const cx = x(grp);
    topVal = Math.max(topVal, s[4], ...outs);

    g.append("line").attr("x1", cx).attr("x2", cx).attr("y1", y(s[0])).attr("y2", y(s[1]))
      .attr("stroke", c.line).attr("stroke-width", 0.8);
    g.append("line").attr("x1", cx).attr("x2", cx).attr("y1", y(s[3])).attr("y2", y(s[4]))
      .attr("stroke", c.line).attr("stroke-width", 0.8);
    g.append("rect").attr("x", cx - bw / 2).attr("width", bw)
      .attr("y", y(s[3])).attr("height", y(s[1]) - y(s[3]))
      .attr("fill", "#fff").attr("stroke", c.line).attr("stroke-width", 0.8);
    g.append("line").attr("x1", cx - bw / 2).attr("x2", cx + bw / 2)
      .attr("y1", y(s[2])).attr("y2", y(s[2]))
      .attr("stroke", c.mid).attr("stroke-width", 1.1);
    g.selectAll(null).data(outs).join("circle")
      .attr("cx", cx).attr("cy", d => y(d)).attr("r", 1.0).attr("fill", c.dot);

    g.append("text")
      .attr("transform", `translate(${cx + 1.5},${bottom + 4}) rotate(-45)`)
      .attr("text-anchor", "end").attr("dominant-baseline", "middle")
      .attr("font-size", 4.5).attr("fill", labelGrey)
      .text(grp);
  });

  // significance bracket
  const by = Math.max(y(topVal) - 3, top + 4);
  const bx1 = x("low"), bx2 = x("high");
  g.append("path")
    .attr("d", `M${bx1},${by + 2}V${by}H${bx2}V${by + 2}`)
    .attr("fill", "none").attr("stroke", "#555").attr("stroke-width", 0.6);
  g.append("text")
    .attr("x", (bx1 + bx2) / 2).attr("y", by - 0.8)
    .attr("text-anchor", "middle").attr("font-size", 4.2).attr("fill", "#333")
    .text(sigLabels[i]);
}

function drawScatter(i, col) {
  const [fx0, fx1] = colFrameX[col];
  const top = panelV[i][3], bottom = panelV[i][4];
  const g = svg.append("g");
  const x = d3.scaleLinear().domain(riskDomain).range([fx0, fx1]);
  const y = d3.scaleLinear().domain(scatterDomains[i]).range([bottom, top]);
  const pts = scatterSets[i];

  const clipId = "clip" + i;
  g.append("clipPath").attr("id", clipId)
    .append("rect").attr("x", fx0).attr("y", top).attr("width", fx1 - fx0).attr("height", bottom - top);

  const yAxis = g.append("g").attr("transform", `translate(${fx0},0)`)
    .call(d3.axisLeft(y).tickValues(scatterTicks[i]).tickFormat(fmtDec(scatterTickDecimals[i]))
      .tickSize(1.5).tickSizeOuter(0).tickPadding(1));
  styleAxis(yAxis, 3.9);
  yAxis.select(".domain").remove();
  const xAxis = g.append("g").attr("transform", `translate(0,${bottom})`)
    .call(d3.axisBottom(x).tickValues(riskTicks).tickFormat(d => d.toFixed(1))
      .tickSize(1.5).tickSizeOuter(0).tickPadding(1.5));
  styleAxis(xAxis, 3.9);
  xAxis.select(".domain").remove();

  const plot = g.append("g").attr("clip-path", `url(#${clipId})`);

  plot.selectAll("circle").data(pts).join("circle")
    .attr("cx", d => x(d[0])).attr("cy", d => y(d[1]))
    .attr("r", 1.15).attr("fill", "#000");

  // regression line with confidence band (band shape from the spread of the risk scores)
  const xs = pts.map(d => d[0]);
  const [xmin, xmax] = d3.extent(xs);
  const xbar = d3.mean(xs);
  const sxx = d3.sum(xs, v => (v - xbar) ** 2);
  const n = xs.length;
  const spread = v => Math.sqrt(1 / n + (v - xbar) ** 2 / sxx);
  const [yl, yr] = fitEnds[i];
  const fit = v => yl + (yr - yl) * (v - xmin) / (xmax - xmin);
  const [hl, hr] = bandHalf[i];
  const k = (hl / spread(xmin) + hr / spread(xmax)) / 2;
  const grid = d3.range(41).map(j => xmin + (xmax - xmin) * j / 40);

  plot.append("path").datum(grid)
    .attr("d", d3.area().x(v => x(v))
      .y0(v => y(fit(v) - k * spread(v))).y1(v => y(fit(v) + k * spread(v))))
    .attr("fill", "#97a1a0").attr("fill-opacity", 0.34);
  plot.append("path").datum([xmin, xmax])
    .attr("d", d3.line().x(v => x(v)).y(v => y(fit(v))))
    .attr("stroke", "#000").attr("stroke-width", 1.1).attr("fill", "none");

  g.append("rect")
    .attr("x", fx0).attr("y", top).attr("width", fx1 - fx0).attr("height", bottom - top)
    .attr("fill", "none").attr("stroke", "#8a8a8a").attr("stroke-width", 0.9);

  // correlation label
  const [fx, dy] = rLabelPos[i];
  const t = g.append("text")
    .attr("x", fx0 + (fx1 - fx0) * fx).attr("y", top + dy)
    .attr("font-size", 4.6).attr("fill", "#222");
  t.append("tspan").attr("font-style", "italic").text("R");
  t.append("tspan").text(` = ${rValues[i]}, `);
  t.append("tspan").attr("font-style", "italic").text("p");
  t.append("tspan").text(` = ${pValues[i]}`);

  // axis titles
  g.append("text")
    .attr("x", (fx0 + fx1) / 2).attr("y", bottom + 12)
    .attr("text-anchor", "middle").attr("font-size", 5.9).attr("fill", "#222")
    .text("DRGs risk score");
  g.append("text")
    .attr("transform", `translate(${fx0 - 9},${(top + bottom) / 2}) rotate(-90)`)
    .attr("text-anchor", "middle").attr("font-size", 5.3).attr("fill", "#222")
    .text(drugNames[i]);
}

panelLetters.forEach((letter, i) => {
  const row = Math.floor(i / 3), col = i % 3;
  svg.append("text")
    .attr("x", colLetterX[col]).attr("y", rowLetterY[row])
    .attr("font-size", 27).attr("fill", "#111")
    .text(letter);
  drawBox(i, col);
  drawScatter(i, col);
});
</script>
</body>
</html>
